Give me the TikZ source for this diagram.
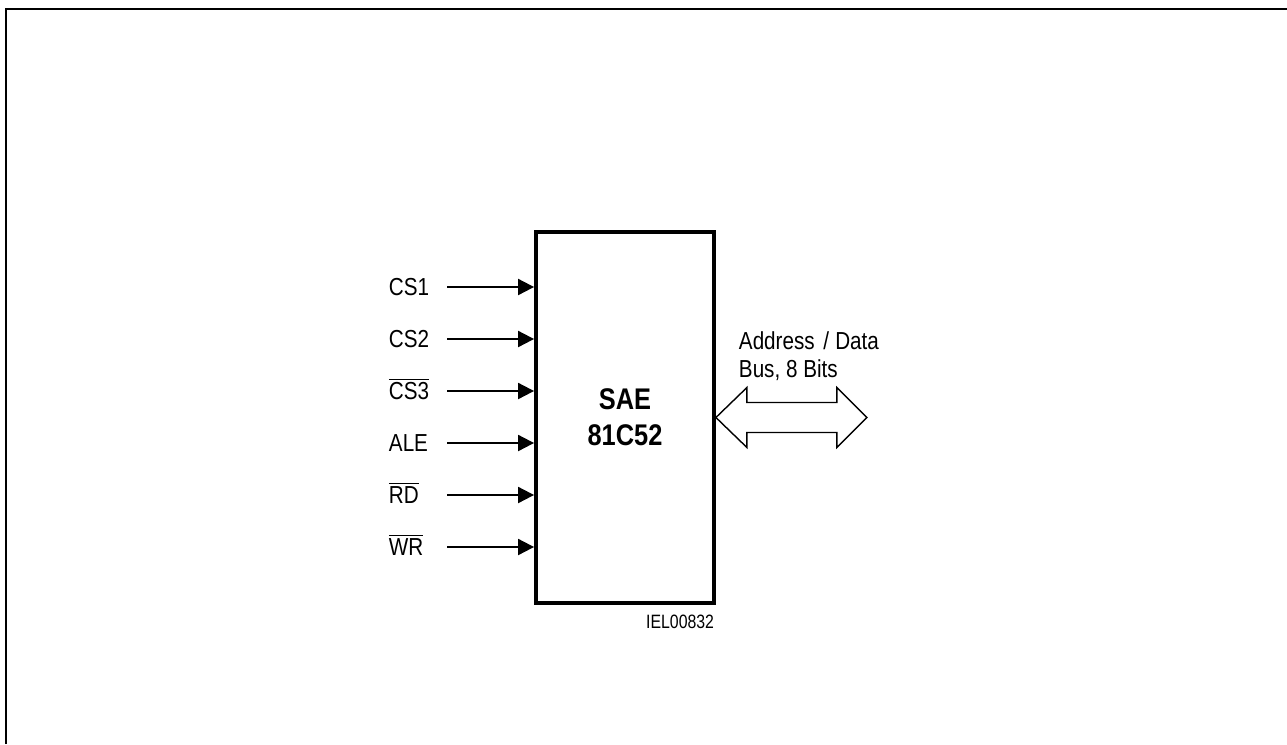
\documentclass[tikz,border=0pt]{standalone}
\usepackage{fontspec}
\setmainfont[FakeStretch=0.84]{Liberation Sans}
\usetikzlibrary{arrows.meta, positioning}

\begin{document}
\begin{tikzpicture}[x=0.02cm, y=-0.02cm, line width=1.1pt,
    pin/.style={-{Triangle[length=3.2mm, width=3.2mm]}},
    every node/.style={font=\fontsize{14}{15.9}\selectfont}]
    \useasboundingbox (0,0) rectangle (1287,744);
    % Frame
    \draw[line width=1pt] (6,744) -- (6,9) -- (1287,9);

    % Chip
    \node (chip) [draw, line width=2.2pt, minimum width=3.56cm, minimum height=7.42cm, align=center,
        font=\fontsize{17}{20.4}\selectfont\bfseries\addfontfeature{FakeStretch=0.85}] at (625,417.5) {SAE\\81C52};
    \node (ref) [anchor=base east, inner sep=0pt, font=\fontsize{11}{12}\selectfont\addfontfeature{FakeStretch=0.82}] at (715,628) {IEL00832};

    % Inputs
    \foreach \name/\txt [count=\i] in {cs1/CS1, cs2/CS2, cs3/$\overline{\mbox{CS3}}$, ale/ALE, rd/$\overline{\mbox{RD}}$, wr/$\overline{\mbox{WR}}$} {
        \node (\name) [anchor=base west, inner sep=0pt] at (388, 243+52*\i) {\txt};
        \coordinate (s\name) at (447, 235+52*\i);
        \draw[pin] (s\name) -- (s\name -| chip.west);
    }

    % Bus
    \draw[line width=0.8pt] (chip.east) -- ++(31,-30) -- ++(0,15) -- ++(90,0) -- ++(0,-15) -- ++(30,30)
        -- ++(-30,30) -- ++(0,-15) -- ++(-90,0) -- ++(0,15) -- cycle;
    \node (bus) [anchor=north west, inner sep=0pt, align=left] at (738,331) {Address\hspace{0.35em}/\hspace{0.25em}Data\\Bus, 8 Bits};
\end{tikzpicture}
\end{document}
